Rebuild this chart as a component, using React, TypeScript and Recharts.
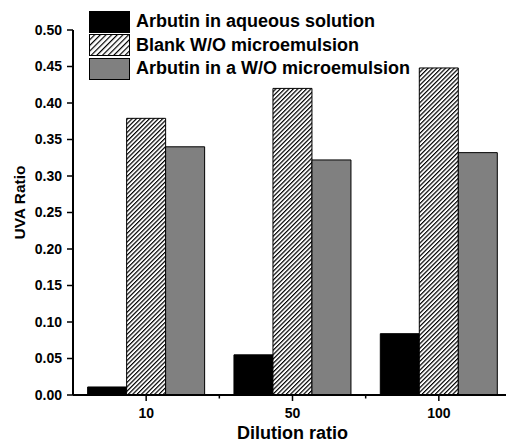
import React from 'react';
import { BarChart, Bar, XAxis, YAxis, Legend, Label } from 'recharts';

const categories = ['10', '50', '100'];
const aqueous = [0.011, 0.055, 0.084];
const blank = [0.379, 0.42, 0.448];
const microemulsion = [0.34, 0.322, 0.332];
const yTicks = [0, 0.05, 0.1, 0.15, 0.2, 0.25, 0.3, 0.35, 0.4, 0.45, 0.5];
const seriesNames = [
  'Arbutin in aqueous solution',
  'Blank W/O microemulsion',
  'Arbutin in a W/O microemulsion',
];
const seriesFills = ['#000', 'url(#hatchLegend)', '#808080'];
const xTitle = 'Dilution ratio';
const yTitle = 'UVA Ratio';

const data = categories.map((c, i) => ({
  cat: c,
  aqueous: aqueous[i],
  blank: blank[i],
  micro: microemulsion[i],
}));

const FONT = '"Liberation Sans", Arial, Helvetica, sans-serif';
const X_TICK_SIZE = 6;
const X_TICK_MARGIN = 7;

const XTick = (props: any) => {
  const { x, y, payload, index, visibleTicksCount } = props;
  const half = payload && payload.offset ? payload.offset : 0;
  const axisY = y - X_TICK_SIZE - X_TICK_MARGIN;
  return (
    <g>
      <text
        x={x}
        y={y}
        dy="0.71em"
        textAnchor="middle"
        fontSize={14}
        fontWeight="bold"
        fill="#000"
        fontFamily={FONT}
      >
        {payload.value}
      </text>
      {index < (visibleTicksCount ?? 3) - 1 && (
        <line x1={x + half} x2={x + half} y1={axisY} y2={axisY + 3.5} stroke="#000" strokeWidth={1.5} />
      )}
    </g>
  );
};

const LegendContent = () => {
  return (
    <div style={{ display: 'flex', flexDirection: 'column', fontFamily: FONT }}>
      {seriesNames.map((name, i) => (
        <div
          key={i}
          style={{ display: 'flex', alignItems: 'center', height: 21, marginBottom: 2.7 }}
        >
          <svg width={41} height={22} style={{ display: 'block' }}>
            <rect x={0.5} y={0.5} width={40} height={21} fill={seriesFills[i]} stroke="#000" strokeWidth={1} />
          </svg>
          <span
            style={{
              marginLeft: 6,
              fontSize: 18,
              fontWeight: 'bold',
              color: '#000',
              lineHeight: '21px',
              whiteSpace: 'nowrap',
            }}
          >
            {name}
          </span>
        </div>
      ))}
    </div>
  );
};

const YTitle = (props: any) => {
  const vb = props.viewBox || { x: 0, y: 30, width: 73, height: 365 };
  const cx = vb.x + 24.5;
  const cy = vb.y + vb.height / 2 - 10;
  return (
    <text
      x={cx}
      y={cy}
      transform={`rotate(-90, ${cx}, ${cy})`}
      textAnchor="middle"
      fontSize={15.5}
      fontWeight="bold"
      fill="#000"
      fontFamily={FONT}
    >
      {yTitle}
    </text>
  );
};

export default function App() {
  return (
    <div
      style={{
        position: 'absolute',
        left: 0,
        top: 0,
        width: 506,
        height: 442,
        overflow: 'hidden',
        background: '#fff',
        fontFamily: FONT,
      }}
    >
      <BarChart
        width={512}
        height={442}
        data={data}
        margin={{ top: 30, right: 0, bottom: 0, left: 0 }}
        barCategoryGap="10%"
        barGap={0}
      >
        <defs>
          <pattern id="hatch" patternUnits="userSpaceOnUse" width={3.1} height={3.1} patternTransform="rotate(45)">
            <rect x={0} y={0} width={3.1} height={3.1} fill="#fff" />
            <line x1={0.6} y1={0} x2={0.6} y2={3.1} stroke="#000" strokeWidth={1.2} />
          </pattern>
          <pattern id="hatchLegend" patternUnits="userSpaceOnUse" width={4} height={4} patternTransform="rotate(45)">
            <rect x={0} y={0} width={4} height={4} fill="#fff" />
            <line x1={0.6} y1={0} x2={0.6} y2={4} stroke="#000" strokeWidth={1.2} />
          </pattern>
        </defs>
        <XAxis
          dataKey="cat"
          height={47}
          stroke="#000"
          axisLine={{ stroke: '#000', strokeWidth: 2 }}
          tickLine={{ stroke: '#000', strokeWidth: 1.5 }}
          tickSize={X_TICK_SIZE}
          tickMargin={X_TICK_MARGIN}
          tick={<XTick />}
          interval={0}
        >
          <Label
            value={xTitle}
            position="insideBottom"
            offset={3}
            style={{ fontSize: 18, fontWeight: 'bold', fill: '#000', fontFamily: FONT }}
          />
        </XAxis>
        <YAxis
          width={73}
          domain={[0, 0.5]}
          ticks={yTicks}
          interval={0}
          tickFormatter={(v: number) => v.toFixed(2)}
          axisLine={{ stroke: '#000', strokeWidth: 2 }}
          tickLine={{ stroke: '#000', strokeWidth: 1.5 }}
          tickSize={6}
          tickMargin={5}
          tick={{ fontSize: 14, fontWeight: 'bold', fill: '#000', fontFamily: FONT }}
        >
          <Label content={<YTitle />} />
        </YAxis>
        <Legend
          layout="vertical"
          align="center"
          verticalAlign="middle"
          content={<LegendContent />}
          wrapperStyle={{ left: 89, top: 11, width: 'auto' }}
        />
        <Bar dataKey="aqueous" name={seriesNames[0]} fill="#000" stroke="#000" strokeWidth={1} isAnimationActive={false} />
        <Bar dataKey="blank" name={seriesNames[1]} fill="url(#hatch)" stroke="#000" strokeWidth={1} isAnimationActive={false} />
        <Bar dataKey="micro" name={seriesNames[2]} fill="#808080" stroke="#000" strokeWidth={1} isAnimationActive={false} />
      </BarChart>
    </div>
  );
}
